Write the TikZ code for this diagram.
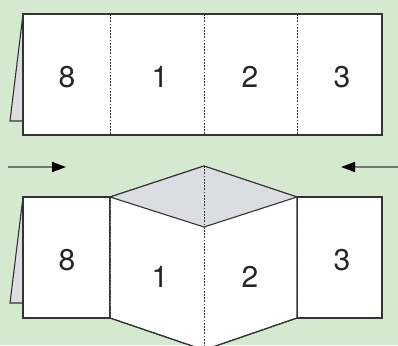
\documentclass[tikz,border=0pt]{standalone}
\usepackage{fontspec}
\setmainfont{TeX Gyre Heros}
\usetikzlibrary{arrows.meta}
\definecolor{bg}{HTML}{D5E8D0}
\definecolor{flapgray}{HTML}{DCDDE0}
\definecolor{edge}{HTML}{333333}
\definecolor{shaft}{HTML}{6E786E}
\tikzset{
  paper/.style={draw=edge, line width=1.1pt, fill=white, line join=miter},
  flap/.style={draw=edge, line width=1.1pt, fill=flapgray},
  fold/.style={draw=edge, line width=0.8pt, dash pattern=on 1.8pt off 1.4pt},
  solidline/.style={draw=edge, line width=1.1pt},
  num/.style={font=\fontsize{30pt}{30pt}\selectfont, text=black!85, inner sep=0pt},
  push/.style={draw=shaft, line width=1.6pt, -{Triangle[length=14pt,width=10pt,fill=black,color=black]}}
}
\begin{document}
\begin{tikzpicture}[x=1pt,y=-1pt]
\fill[bg] (0,0) rectangle (398,345);
\useasboundingbox (0,0) rectangle (398,345);
\begin{scope}
\clip (0,0) rectangle (398,345);
% top panel
\draw[flap] (23,14) -- (10,121) -- (23,121);
\draw[paper] (23,14) rectangle (382,135);
\draw[fold] (110,14) -- (110,135);
\draw[fold] (204,14) -- (204,135);
\draw[fold] (297,14) -- (297,135);
\node[num] (t8) at (67,77) {8};
\node[num] (t1) at (160,77) {1};
\node[num] (t2) at (250,77) {2};
\node[num] (t3) at (342,77) {3};
% arrows
\coordinate (la) at (8,167);
\coordinate (lb) at (66,167);
\coordinate (ra) at (400,167);
\coordinate (rb) at (341,167);
\draw[push] (la) -- (lb);
\draw[push] (ra) -- (rb);
% bottom panel
\draw[flap] (23,197) -- (10,303) -- (23,303);
\draw[paper] (23,197) rectangle (110,318);
\draw[paper] (297,197) rectangle (382,318);
\draw[paper] (110,197) -- (204,166) -- (297,197) -- (297,318) -- (204,350) -- (110,318) -- cycle;
\fill[flapgray] (110,197) -- (204,166) -- (297,197) -- (204,227) -- cycle;
\draw[solidline, line join=miter] (110,197) -- (204,166) -- (297,197);
\draw[solidline] (110,197) -- (204,227) -- (297,197);
\draw[solidline] (110,318) -- (204,350) -- (297,318);
\draw[fold] (110,197) -- (110,318);
\draw[fold] (297,197) -- (297,318);
\draw[fold] (204,166) -- (204,350);
\node[num] (b8) at (67,260) {8};
\node[num] (b1) at (160,277) {1};
\node[num] (b2) at (250,277) {2};
\node[num] (b3) at (342,260) {3};
\end{scope}
\end{tikzpicture}
\end{document}
